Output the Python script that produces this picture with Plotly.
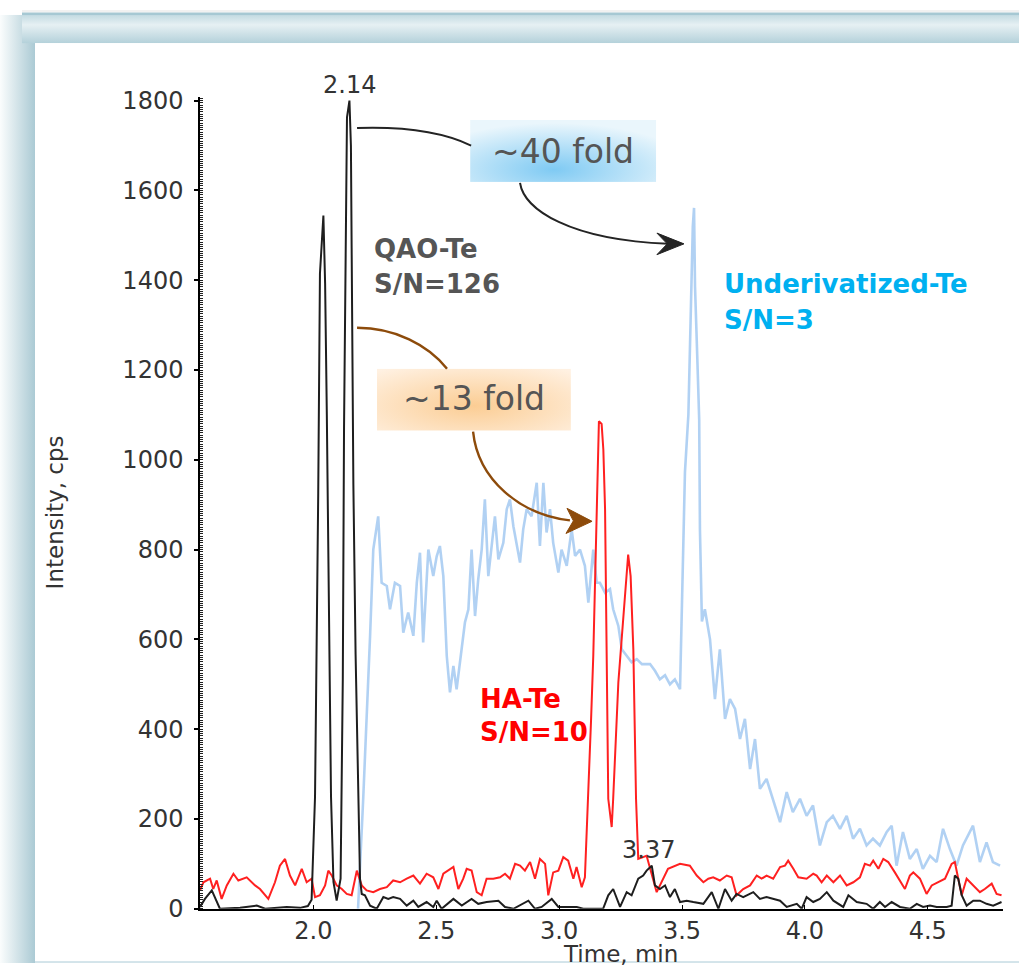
import base64
import math
import plotly.graph_objects as go

# ---------------- data ----------------
qao_time = [
    1.539, 1.559, 1.587, 1.607, 1.620, 1.702, 1.770, 1.804, 1.892, 1.946,
    1.978, 1.993, 2.007, 2.020, 2.027, 2.041, 2.048, 2.055, 2.064, 2.072,
    2.082, 2.095, 2.111, 2.120, 2.125, 2.131, 2.137, 2.147, 2.153, 2.156,
    2.163, 2.172, 2.182, 2.190, 2.197, 2.210, 2.231, 2.258, 2.285, 2.305,
    2.325, 2.353, 2.380, 2.407, 2.427, 2.461, 2.488, 2.502, 2.522, 2.570,
    2.604, 2.644, 2.671, 2.705, 2.753, 2.780, 2.814, 2.875, 2.902, 2.929,
    2.970, 2.997, 3.072, 3.098, 3.153, 3.179, 3.200, 3.220, 3.248, 3.275,
    3.295, 3.322, 3.342, 3.356, 3.377, 3.390, 3.410, 3.431, 3.451, 3.471,
    3.492, 3.519, 3.546, 3.587, 3.621, 3.648, 3.675, 3.702, 3.722, 3.749,
    3.790, 3.817, 3.844, 3.871, 3.899, 3.926, 3.967, 3.987, 4.007, 4.034,
    4.061, 4.089, 4.116, 4.156, 4.177, 4.211, 4.251, 4.278, 4.305, 4.326,
    4.353, 4.387, 4.427, 4.455, 4.481, 4.509, 4.536, 4.577, 4.597, 4.610,
    4.624, 4.638, 4.658, 4.685, 4.712, 4.739, 4.766, 4.800,
]
qao_int = [
    4, 22, 41, 15, 0, 2, 7, 0, 4, 2,
    6, 20, 250, 926, 1415, 1544, 1393, 1100, 607, 250,
    60, 18, 67, 511, 1071, 1523, 1763, 1800, 1700, 1472,
    945, 567, 245, 67, 33, 30, 7, 0, 26, 22,
    26, 22, 7, 18, 4, 15, 4, 18, 0, 22,
    7, 22, 11, 15, 18, 4, 0, 18, 0, 4,
    22, 4, 4, 0, 0, 0, 30, 44, 4, 37,
    30, 67, 74, 85, 96, 52, 44, 52, 26, 44,
    15, 18, 15, 11, 37, 0, 44, 18, 33, 26,
    37, 22, 26, 22, 18, 4, 11, 0, 26, 15,
    22, 37, 18, 4, 30, 15, 11, 0, 15, 4,
    15, 4, 0, 11, 4, 7, 4, 4, 7, 74,
    67, 30, 7, 18, 18, 11, 7, 15,
]

ha_time = [
    1.539, 1.553, 1.580, 1.593, 1.607, 1.627, 1.648, 1.675, 1.695, 1.729,
    1.763, 1.783, 1.817, 1.844, 1.864, 1.885, 1.905, 1.926, 1.953, 1.973,
    1.993, 2.007, 2.027, 2.048, 2.061, 2.075, 2.095, 2.116, 2.136, 2.156,
    2.177, 2.197, 2.217, 2.244, 2.271, 2.299, 2.325, 2.353, 2.380, 2.407,
    2.434, 2.461, 2.488, 2.509, 2.529, 2.549, 2.570, 2.590, 2.610, 2.624,
    2.644, 2.665, 2.685, 2.705, 2.732, 2.760, 2.780, 2.800, 2.821, 2.841,
    2.861, 2.882, 2.902, 2.922, 2.943, 2.956, 2.976, 2.997, 3.017, 3.037,
    3.058, 3.071, 3.092, 3.105, 3.119, 3.130, 3.139, 3.153, 3.162, 3.173,
    3.180, 3.187, 3.194, 3.200, 3.214, 3.220, 3.241, 3.261, 3.272, 3.281,
    3.291, 3.302, 3.313, 3.322, 3.356, 3.397, 3.443, 3.492, 3.532, 3.560,
    3.587, 3.607, 3.627, 3.654, 3.682, 3.702, 3.722, 3.749, 3.777, 3.804,
    3.824, 3.844, 3.871, 3.899, 3.919, 3.932, 3.953, 3.973, 4.007, 4.034,
    4.048, 4.068, 4.089, 4.116, 4.143, 4.170, 4.197, 4.224, 4.244, 4.265,
    4.278, 4.299, 4.319, 4.339, 4.366, 4.387, 4.407, 4.427, 4.441, 4.468,
    4.495, 4.516, 4.542, 4.570, 4.597, 4.610, 4.624, 4.638, 4.658, 4.685,
    4.712, 4.732, 4.760, 4.780, 4.800,
]
ha_int = [
    41, 59, 67, 44, 63, 22, 52, 78, 63, 70,
    52, 44, 22, 59, 96, 111, 74, 52, 89, 59,
    67, 26, 30, 52, 85, 74, 52, 44, 33, 30,
    85, 52, 41, 37, 44, 48, 63, 59, 67, 74,
    56, 78, 70, 44, 78, 85, 93, 44, 67, 89,
    85, 37, 30, 67, 67, 70, 78, 67, 100, 96,
    85, 104, 67, 111, 100, 30, 81, 85, 115, 107,
    67, 93, 48, 70, 245, 420, 563, 897, 1086, 1080,
    1023, 890, 541, 245, 182, 245, 504, 652, 741, 789,
    741, 578, 245, 111, 118, 37, 89, 100, 96, 74,
    59, 67, 70, 63, 74, 70, 30, 44, 52, 74,
    67, 74, 67, 93, 96, 107, 89, 70, 67, 78,
    74, 59, 74, 59, 74, 52, 59, 70, 100, 96,
    107, 89, 111, 104, 81, 63, 44, 74, 81, 67,
    33, 52, 59, 67, 100, 104, 67, 30, 67, 52,
    37, 44, 56, 33, 30,
]

und_time = [
    2.182, 2.203, 2.231, 2.244, 2.264, 2.278, 2.299, 2.312, 2.332, 2.353,
    2.366, 2.386, 2.407, 2.421, 2.434, 2.447, 2.468, 2.488, 2.502, 2.515,
    2.529, 2.543, 2.556, 2.570, 2.583, 2.597, 2.617, 2.631, 2.644, 2.658,
    2.671, 2.685, 2.698, 2.712, 2.726, 2.739, 2.753, 2.773, 2.787, 2.800,
    2.814, 2.827, 2.841, 2.854, 2.868, 2.888, 2.909, 2.922, 2.936, 2.949,
    2.963, 2.976, 2.997, 3.010, 3.031, 3.051, 3.065, 3.085, 3.105, 3.119,
    3.139, 3.153, 3.166, 3.187, 3.207, 3.220, 3.241, 3.255, 3.275, 3.295,
    3.316, 3.337, 3.370, 3.390, 3.410, 3.431, 3.451, 3.471, 3.492, 3.500,
    3.512, 3.526, 3.535, 3.544, 3.549, 3.553, 3.562, 3.570, 3.573, 3.581,
    3.593, 3.614, 3.634, 3.654, 3.675, 3.695, 3.716, 3.736, 3.756, 3.777,
    3.797, 3.817, 3.844, 3.899, 3.926, 3.951, 3.980, 4.007, 4.033, 4.061,
    4.089, 4.114, 4.143, 4.170, 4.196, 4.224, 4.251, 4.277, 4.305, 4.333,
    4.353, 4.373, 4.399, 4.427, 4.455, 4.480, 4.509, 4.536, 4.562, 4.590,
    4.617, 4.643, 4.684, 4.712, 4.739, 4.765, 4.794,
]
und_int = [
    0, 245, 608, 800, 874, 726, 719, 667, 726, 719,
    615, 660, 608, 726, 793, 593, 800, 741, 785, 808,
    741, 563, 482, 541, 489, 549, 638, 667, 800, 652,
    734, 800, 912, 741, 815, 874, 778, 815, 890, 912,
    852, 808, 771, 845, 890, 874, 949, 808, 949, 838,
    890, 815, 749, 800, 764, 845, 786, 800, 764, 682,
    800, 726, 726, 704, 712, 667, 630, 578, 563, 549,
    556, 545, 545, 530, 511, 520, 500, 511, 489, 700,
    972, 1101, 1300, 1520, 1561, 1386, 1231, 1090, 845, 640,
    667, 600, 467, 578, 423, 467, 445, 378, 423, 311,
    378, 267, 289, 193, 260, 215, 245, 207, 230, 141,
    193, 207, 178, 207, 156, 178, 141, 156, 141, 171,
    185, 96, 171, 111, 133, 89, 118, 104, 178, 133,
    96, 141, 185, 104, 148, 104, 96,
]

x_tick_vals = [2.0, 2.5, 3.0, 3.5, 4.0, 4.5]
y_tick_vals = [0, 200, 400, 600, 800, 1000, 1200, 1400, 1600, 1800]
x_range = [1.539, 4.806]
y_range = [0, 1808]
start_marker_level = 74

assert len(qao_time) == len(qao_int)
assert len(ha_time) == len(ha_int)
assert len(und_time) == len(und_int)

FONT = "DejaVu Sans"
W, H = 1019, 977

# vertical calibration of the photographed page (page pixel -> figure pixel)
PHOTO_OFFSET, PHOTO_SCALE = 9.8, 0.977


def fy(py):
    return (py - PHOTO_OFFSET) / PHOTO_SCALE


def svg_uri(svg):
    return "data:image/svg+xml;base64," + base64.b64encode(svg.encode()).decode()


strip_bot = fy(12.3)
line_bot = fy(14.8)
panel_top = fy(43)
background_svg = f"""<svg xmlns='http://www.w3.org/2000/svg' width='{W}' height='{H}' viewBox='0 0 {W} {H}' preserveAspectRatio='none'>
<defs>
<linearGradient id='lg' x1='0' y1='0' x2='1' y2='0'><stop offset='0' stop-color='#fbfdfd'/><stop offset='1' stop-color='#abcad4'/></linearGradient>
<linearGradient id='tg' x1='0' y1='0' x2='0' y2='1'><stop offset='0' stop-color='#c3dbe2'/><stop offset='0.35' stop-color='#e6f0f3'/><stop offset='1' stop-color='#b4d1da'/></linearGradient>
</defs>
<rect width='{W}' height='{H}' fill='#ffffff'/>
<rect x='0' y='{line_bot:.1f}' width='35' height='{H}' fill='url(#lg)'/>
<rect x='22' y='{line_bot:.1f}' width='1100' height='{panel_top - line_bot:.1f}' fill='url(#tg)'/>
<rect x='22' y='0' width='1100' height='{strip_bot:.1f}' fill='#f1f1f1'/>
<rect x='22' y='{strip_bot:.1f}' width='1100' height='{line_bot - strip_bot:.1f}' fill='#a6c8d3'/>
<rect x='35' y='{panel_top:.1f}' width='1100' height='{H}' fill='#ffffff'/>
<rect x='35' y='{H - 2}' width='1100' height='2' fill='#d3e4ea'/>
</svg>"""

blue_box_svg = """<svg xmlns='http://www.w3.org/2000/svg' width='186' height='62' viewBox='0 0 186 62' preserveAspectRatio='none'>
<defs><radialGradient id='g' cx='0.45' cy='0.8' r='0.75'><stop offset='0' stop-color='#7fcaf3'/><stop offset='1' stop-color='#eaf6fc'/></radialGradient></defs>
<rect width='186' height='62' fill='url(#g)'/></svg>"""

orange_box_svg = """<svg xmlns='http://www.w3.org/2000/svg' width='194' height='62' viewBox='0 0 194 62' preserveAspectRatio='none'>
<defs><radialGradient id='g' cx='0.5' cy='0.6' r='0.75'><stop offset='0' stop-color='#fbcd94'/><stop offset='1' stop-color='#fff1e2'/></radialGradient></defs>
<rect width='194' height='62' fill='url(#g)'/></svg>"""

fig = go.Figure()

fig.add_trace(go.Scatter(
    x=und_time, y=und_int, mode="lines",
    line=dict(color="rgba(125,178,235,0.6)", width=2.6), hoverinfo="skip"))
fig.add_trace(go.Scatter(
    x=ha_time, y=ha_int, mode="lines",
    line=dict(color="#ff2020", width=2), hoverinfo="skip"))
fig.add_trace(go.Scatter(
    x=qao_time, y=qao_int, mode="lines",
    line=dict(color="#1e1e1e", width=2), hoverinfo="skip"))
fig.add_trace(go.Scatter(
    x=[x_range[0] - 0.008], y=[start_marker_level], mode="markers",
    marker=dict(symbol="triangle-right", size=13, color="#1212e0"),
    cliponaxis=False, hoverinfo="skip"))

tick_font = dict(family=FONT, size=24, color="#333333")
fig.update_layout(
    width=W, height=H, autosize=False,
    margin=dict(l=0, r=0, t=0, b=0, pad=0),
    paper_bgcolor="white", plot_bgcolor="rgba(0,0,0,0)",
    showlegend=False,
    xaxis=dict(
        domain=[200 / W, 1003 / W], range=x_range,
        tickvals=x_tick_vals, ticktext=[f"{v:.1f}" for v in x_tick_vals],
        ticks="inside", ticklen=4, tickcolor="black", tickwidth=1,
        showline=True, linecolor="black", linewidth=1.5,
        showgrid=False, zeroline=False, tickfont=tick_font,
    ),
    yaxis=dict(
        domain=[(H - fy(910)) / H, (H - fy(97)) / H], range=y_range,
        tickvals=y_tick_vals,
        ticks="outside", ticklen=4, tickcolor="black", tickwidth=1.5,
        ticklabelstandoff=6,
        minor=dict(ticks="inside", dtick=5, ticklen=3, tickcolor="#222", tickwidth=1),
        showline=True, linecolor="black", linewidth=1.5,
        showgrid=False, zeroline=False, tickfont=tick_font,
    ),
)

fig.add_layout_image(dict(
    source=svg_uri(background_svg), xref="paper", yref="paper",
    x=0, y=1, sizex=1, sizey=1, sizing="stretch",
    xanchor="left", yanchor="top", layer="below"))
fig.add_layout_image(dict(
    source=svg_uri(blue_box_svg), xref="x", yref="y",
    x=2.638, y=1757, sizex=0.757, sizey=138, sizing="stretch",
    xanchor="left", yanchor="top", layer="above"))
fig.add_layout_image(dict(
    source=svg_uri(orange_box_svg), xref="x", yref="y",
    x=2.259, y=1203, sizex=0.789, sizey=138, sizing="stretch",
    xanchor="left", yanchor="top", layer="above"))

# curved arrows (time / intensity coordinates)
BLACK_ARROW = "#242424"
BROWN_ARROW = "#8d4b0b"
arrow_paths = [
    ("M 2.178,1739 C 2.393,1743 2.536,1728 2.642,1700", BLACK_ARROW, 2),
    ("M 2.841,1617 C 2.857,1557 3.044,1490 3.443,1481", BLACK_ARROW, 2),
    ("M 2.178,1294 C 2.332,1294 2.467,1256 2.544,1203", BROWN_ARROW, 2.4),
    ("M 2.650,1063 C 2.670,956 2.841,878 3.044,865", BROWN_ARROW, 2.4),
]
for p, c, w in arrow_paths:
    fig.add_shape(type="path", path=p, xref="x", yref="y",
                  line=dict(color=c, width=w), layer="above")
arrow_heads = [
    ("M 3.508,1481 L 3.398,1505 L 3.440,1481 L 3.398,1457 Z", BLACK_ARROW),
    ("M 3.134,863 L 3.032,892 L 3.058,864 L 3.028,836 Z", BROWN_ARROW),
]
for p, c in arrow_heads:
    fig.add_shape(type="path", path=p, xref="x", yref="y",
                  line=dict(color=c, width=1), fillcolor=c, layer="above")


def note(x, y, text, size, color, bold=False, xanchor="left", yanchor="middle",
         xref="x", yref="y", angle=0):
    fig.add_annotation(
        x=x, y=y, xref=xref, yref=yref, text=text, showarrow=False,
        xanchor=xanchor, yanchor=yanchor, textangle=angle,
        font=dict(family=FONT, size=size, color=color,
                  weight="bold" if bold else "normal"))


# peak labels from the data
i_max = max(range(len(qao_int)), key=lambda i: qao_int[i])
note(qao_time[i_max], qao_int[i_max],
     f"{math.floor(qao_time[i_max] * 100) / 100:.2f}", 24, "#333333",
     xanchor="center", yanchor="bottom")
sub = [i for i in range(len(qao_time)) if 3.3 <= qao_time[i] <= 3.45]
i_loc = max(sub, key=lambda i: qao_int[i])
note(qao_time[i_loc] - 0.015, qao_int[i_loc],
     f"{math.floor(qao_time[i_loc] * 100) / 100:.2f}", 24, "#333333",
     xanchor="center", yanchor="bottom")

note(2.239, 1470, "QAO-Te", 26, "#555555", bold=True)
note(2.239, 1392, "S/N=126", 26, "#555555", bold=True)
note(3.661, 1392, "Underivatized-Te", 26, "#00b0f0", bold=True)
note(3.661, 1312, "S/N=3", 26, "#00b0f0", bold=True)
note(2.671, 467, "HA-Te", 26, "#ff0000", bold=True)
note(2.671, 394, "S/N=10", 26, "#ff0000", bold=True)

note(3.016, 1686, "~40 fold", 33, "#555555", xanchor="center")
note(2.654, 1136, "~13 fold", 33, "#555555", xanchor="center")

note(55 / W, 1 - fy(513) / H, "Intensity, cps", 23, "#333333", xanchor="center",
     xref="paper", yref="paper", angle=-90)
note(620 / W, 1 - fy(955) / H, "Time, min", 23, "#333333", xanchor="center",
     xref="paper", yref="paper")

fig.write_html("out.html")
